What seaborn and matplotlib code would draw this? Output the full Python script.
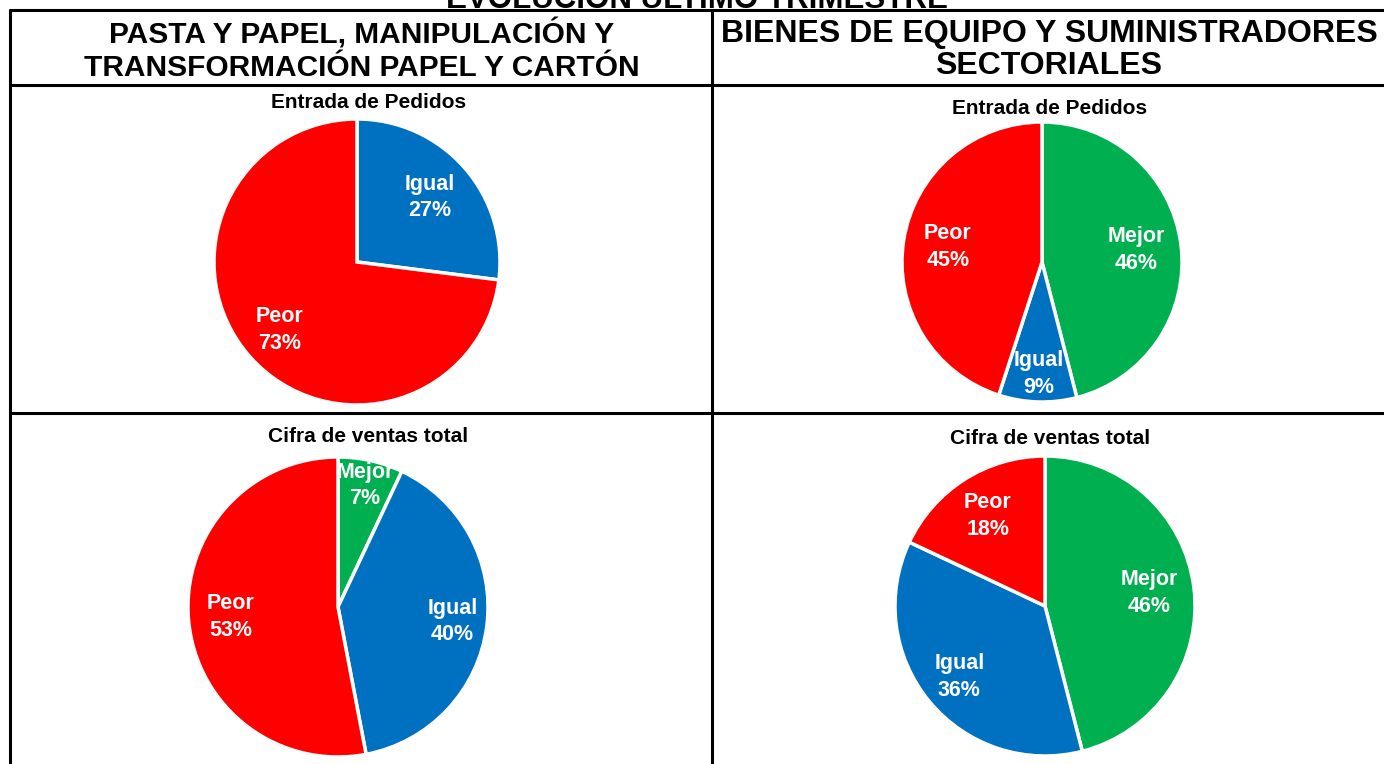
import seaborn as sns
import matplotlib.pyplot as plt
from matplotlib.lines import Line2D

sns.set_theme(style="white")
plt.rcParams['font.family'] = ['Liberation Sans', 'DejaVu Sans']
plt.rcParams['text.color'] = 'black'

# data
main_title = "EVOLUCIÓN ÚLTIMO TRIMESTRE"
sector_titles = ["PASTA Y PAPEL, MANIPULACIÓN Y\nTRANSFORMACIÓN PAPEL Y CARTÓN",
                 "BIENES DE EQUIPO Y SUMINISTRADORES\nSECTORIALES"]
chart_titles = ["Entrada de Pedidos", "Cifra de ventas total"]

pedidos_papel_cats = ["Igual", "Peor"]
pedidos_papel_vals = [27, 73]
pedidos_bienes_cats = ["Mejor", "Igual", "Peor"]
pedidos_bienes_vals = [46, 9, 45]
ventas_papel_cats = ["Mejor", "Igual", "Peor"]
ventas_papel_vals = [7, 40, 53]
ventas_bienes_cats = ["Mejor", "Igual", "Peor"]
ventas_bienes_vals = [46, 36, 18]

colors = {"Mejor": "#00B050", "Igual": "#0070C0", "Peor": "#FF0000"}

W, H = 1384, 764
fig = plt.figure(figsize=(W / 100, H / 100), dpi=100)


def px(x, y):
    return x / W, 1 - y / H


# table lines
lw = 2.2
for y in [10, 85, 413]:
    fig.add_artist(Line2D([10 / W, 1], [1 - y / H] * 2, color="black", lw=lw))
for x in [10, 712]:
    fig.add_artist(Line2D([x / W] * 2, [0, 1 - 10 / H], color="black", lw=lw))

fig.text(*px(697, 8), main_title, ha="center", va="baseline",
         fontsize=22.5, fontweight="bold")
fig.text(*px(362, 50), sector_titles[0], ha="center", va="center",
         fontsize=21.5, fontweight="bold", linespacing=1.2)
fig.text(*px(1049, 50), sector_titles[1], ha="center", va="center",
         fontsize=23, fontweight="bold", linespacing=1.12)

charts = [
    (pedidos_papel_cats, pedidos_papel_vals, (357, 262), 143, chart_titles[0], (369, 103), [0.68, 0.72]),
    (pedidos_bienes_cats, pedidos_bienes_vals, (1042, 262), 140, chart_titles[0], (1050, 108), [0.68, 0.8, 0.68]),
    (ventas_papel_cats, ventas_papel_vals, (338, 607), 150, chart_titles[1], (368, 437), [0.83, 0.77, 0.72]),
    (ventas_bienes_cats, ventas_bienes_vals, (1045, 606), 150, chart_titles[1], (1050, 439), [0.7, 0.74, 0.71]),
]

for cats, vals, (cx, cy), r, title, (tx, ty), dists in charts:
    ax = fig.add_axes([(cx - r) / W, 1 - (cy + r) / H, 2 * r / W, 2 * r / H])
    labels = [f"{c}\n{v}%" for c, v in zip(cats, vals)]
    wedges, texts = ax.pie(vals, labels=labels, colors=[colors[c] for c in cats],
                           startangle=90, counterclock=False, labeldistance=1.0,
                           wedgeprops=dict(edgecolor="white", linewidth=2.5),
                           textprops=dict(color="white", fontweight="bold", fontsize=15.5,
                                          ha="center", va="center", linespacing=1.35))
    for t, d in zip(texts, dists):
        x, y = t.get_position()
        t.set_position((x * d, y * d))
        t.set_ha("center")
        t.set_va("center")
    ax.set_xlim(-1, 1)
    ax.set_ylim(-1, 1)
    ax.set_aspect("equal")
    ax.axis("off")
    fig.text(*px(tx, ty), title, ha="center", va="center", fontsize=15, fontweight="bold")

fig.savefig("out.png", dpi=100)
